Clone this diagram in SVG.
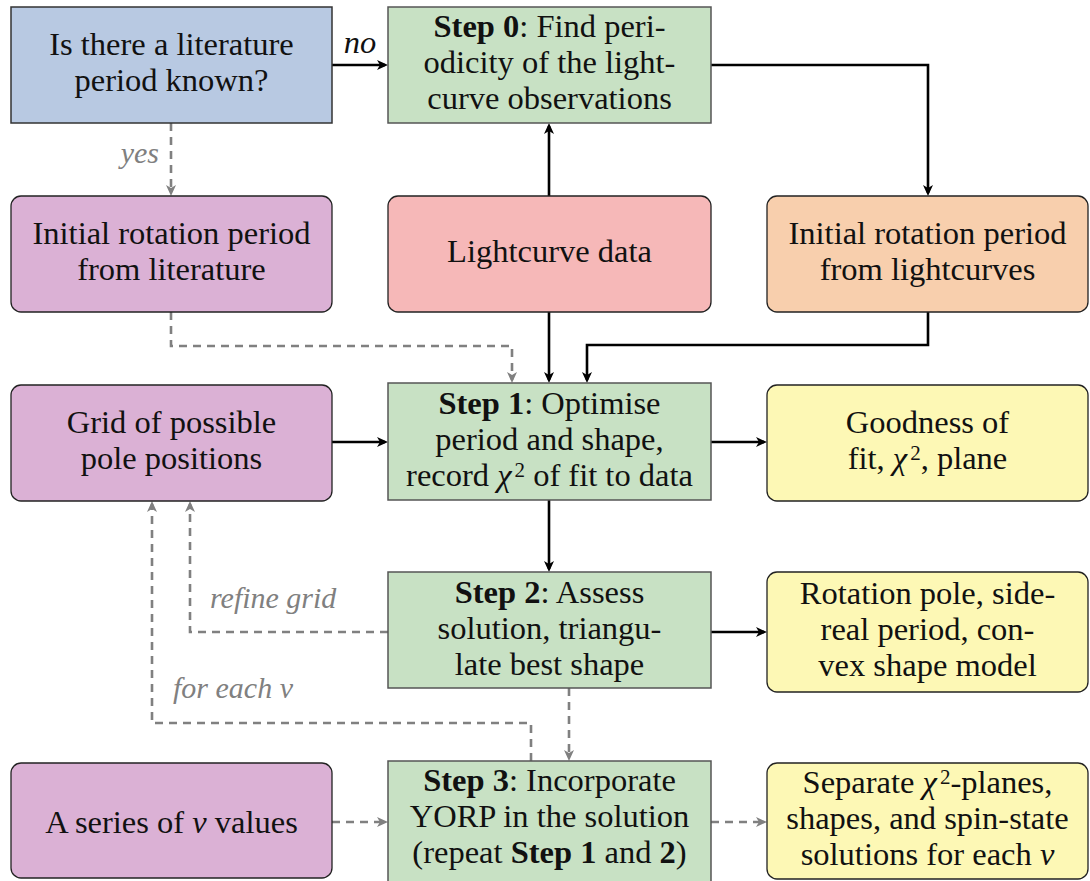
<svg xmlns="http://www.w3.org/2000/svg" width="1090" height="881" viewBox="0 0 1090 881">
<style>
text{font-family:"Liberation Serif","Times New Roman",serif;font-size:32.5px;fill:#111;text-anchor:middle}
.b{font-weight:bold}
.i{font-style:italic}
.sup{font-size:21px}
.lab{font-style:italic;font-size:30px;fill:#808080}
.sq{stroke:#555;stroke-width:1.5}
.rd{stroke:#222;stroke-width:1.3}
.solid{fill:none;stroke:#000;stroke-width:2.6}
.dash{fill:none;stroke:#808080;stroke-width:2.6;stroke-dasharray:8 6}
</style>
<defs>
<marker id="ab" markerUnits="userSpaceOnUse" markerWidth="14" markerHeight="12" viewBox="0 -6 14 12" refX="8" refY="0" orient="auto">
<path d="M0,-5 L11,0 L0,5 L3,0 z" fill="#000"/>
</marker>
<marker id="ag" markerUnits="userSpaceOnUse" markerWidth="14" markerHeight="12" viewBox="0 -6 14 12" refX="8" refY="0" orient="auto">
<path d="M0,-5 L11,0 L0,5 L3,0 z" fill="#808080"/>
</marker>
</defs>

<g id="connectors">
<path class="solid" d="M332,65 H385" marker-end="url(#ab)"/>
<text class="i" x="360" y="53">no</text>
<path class="dash" d="M171,123 V193" marker-end="url(#ag)"/>
<text class="lab" x="159" y="163" style="text-anchor:end">yes</text>
<path class="solid" d="M711,65 H928 V193" marker-end="url(#ab)"/>
<path class="solid" d="M549,196 V126" marker-end="url(#ab)"/>
<path class="solid" d="M549,312 V380" marker-end="url(#ab)"/>
<path class="dash" d="M171,312 V346 H512 V380" marker-end="url(#ag)"/>
<path class="solid" d="M928,312 V345 H587 V380" marker-end="url(#ab)"/>
<path class="solid" d="M332,442 H385" marker-end="url(#ab)"/>
<path class="solid" d="M711,442 H764" marker-end="url(#ab)"/>
<path class="solid" d="M549,500 V569" marker-end="url(#ab)"/>
<path class="solid" d="M711,632 H764" marker-end="url(#ab)"/>
<path class="dash" d="M388,632 H190 V504" marker-end="url(#ag)"/>
<text class="lab" x="210" y="608" style="text-anchor:start">refine grid</text>
<path class="dash" d="M531,761 V723 H152 V504" marker-end="url(#ag)"/>
<text class="lab" x="173" y="698" style="text-anchor:start">for each ν</text>
<path class="dash" d="M569,688 V758" marker-end="url(#ag)"/>
<path class="dash" d="M332,822 H385" marker-end="url(#ag)"/>
<path class="dash" d="M711,822 H764" marker-end="url(#ag)"/>
</g>

<g id="n_known">
<rect x="11" y="7" width="321" height="116" fill="#b8c9e2" stroke="#333" stroke-width="1.5"/>
<text x="171.5" y="55">Is there a literature</text>
<text x="171.5" y="91">period known?</text>
</g>

<g id="n_step0">
<rect class="sq" x="388" y="7" width="323" height="116" fill="#c8e1c4"/>
<text x="549.5" y="37"><tspan class="b">Step 0</tspan>:  Find peri-</text>
<text x="549.5" y="73">odicity of the light-</text>
<text x="549.5" y="109">curve observations</text>
</g>

<g id="n_lit">
<rect class="rd" x="11" y="196" width="321" height="116" rx="10" fill="#dbb1d5"/>
<text x="171.5" y="244">Initial rotation period</text>
<text x="171.5" y="280">from literature</text>
</g>

<g id="n_lcdata">
<rect class="rd" x="388" y="196" width="323" height="116" rx="10" fill="#f6b8b8"/>
<text x="549.5" y="262">Lightcurve data</text>
</g>

<g id="n_lcper">
<rect class="rd" x="767" y="196" width="321" height="116" rx="10" fill="#f8cfad"/>
<text x="927.5" y="244">Initial rotation period</text>
<text x="927.5" y="280">from lightcurves</text>
</g>

<g id="n_grid">
<rect class="rd" x="11" y="385" width="321" height="116" rx="10" fill="#dbb1d5"/>
<text x="171.5" y="433">Grid of possible</text>
<text x="171.5" y="469">pole positions</text>
</g>

<g id="n_step1">
<rect class="sq" x="388" y="383" width="323" height="117" fill="#c8e1c4"/>
<text x="549.5" y="414"><tspan class="b">Step 1</tspan>:  Optimise</text>
<text x="549.5" y="450">period and shape,</text>
<text x="549.5" y="486">record <tspan class="i">χ</tspan><tspan class="sup" dx="3" dy="-9">2</tspan><tspan dy="9"> of fit to data</tspan></text>
</g>

<g id="n_good">
<rect class="rd" x="767" y="385" width="321" height="116" rx="10" fill="#fdf8b5"/>
<text x="927.5" y="433">Goodness of</text>
<text x="927.5" y="469">fit, <tspan class="i">χ</tspan><tspan class="sup" dx="3" dy="-9">2</tspan><tspan dy="9">, plane</tspan></text>
</g>

<g id="n_step2">
<rect class="sq" x="388" y="572" width="323" height="116" fill="#c8e1c4"/>
<text x="549.5" y="603"><tspan class="b">Step 2</tspan>:  Assess</text>
<text x="549.5" y="639">solution, triangu-</text>
<text x="549.5" y="675">late best shape</text>
</g>

<g id="n_rot">
<rect class="rd" x="767" y="572" width="321" height="120" rx="10" fill="#fdf8b5"/>
<text x="927.5" y="604">Rotation pole, side-</text>
<text x="927.5" y="640">real period, con-</text>
<text x="927.5" y="676">vex shape model</text>
</g>

<g id="n_series">
<rect class="rd" x="11" y="763" width="321" height="115" rx="10" fill="#dbb1d5"/>
<text x="171.5" y="833">A series of <tspan class="i">ν</tspan> values</text>
</g>

<g id="n_step3">
<rect class="sq" x="388" y="761" width="323" height="124" fill="#c8e1c4"/>
<text x="549.5" y="791"><tspan class="b">Step 3</tspan>:  Incorporate</text>
<text x="549.5" y="827">YORP in the solution</text>
<text x="549.5" y="863">(repeat <tspan class="b">Step 1</tspan> and <tspan class="b">2</tspan>)</text>
</g>

<g id="n_sep">
<rect class="rd" x="767" y="763" width="321" height="116" rx="10" fill="#fdf8b5"/>
<text x="927.5" y="793">Separate <tspan class="i">χ</tspan><tspan class="sup" dx="3" dy="-9">2</tspan><tspan dy="9">-planes,</tspan></text>
<text x="927.5" y="829">shapes, and spin-state</text>
<text x="927.5" y="865">solutions for each <tspan class="i">ν</tspan></text>
</g>
</svg>
